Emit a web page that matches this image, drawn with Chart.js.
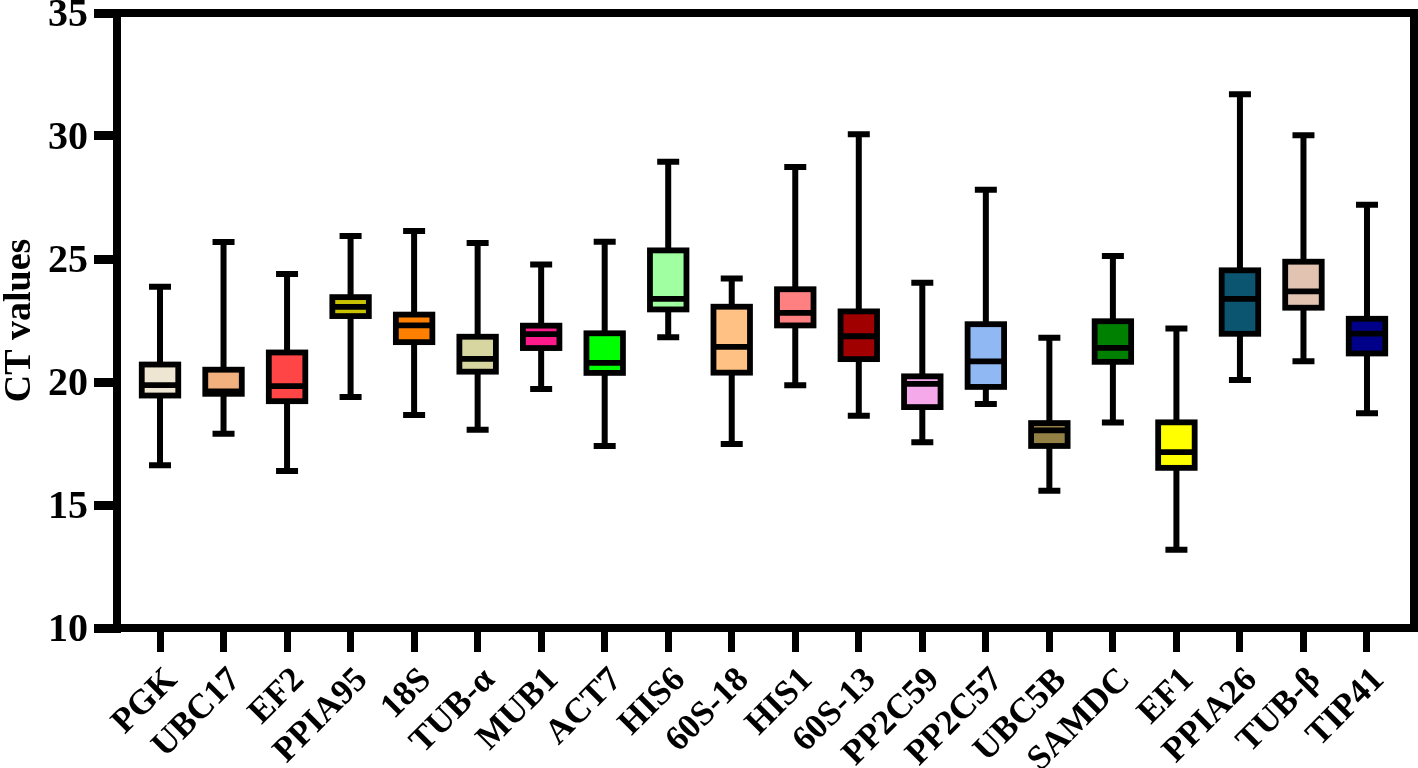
<!DOCTYPE html>
<html>
<head>
<meta charset="utf-8">
<script src="https://cdn.jsdelivr.net/npm/chart.js@4.4.0/dist/chart.umd.min.js"></script>
<style>
  html, body { margin: 0; padding: 0; background: #fff; }
  #wrap { width: 1418px; height: 768px; }
</style>
</head>
<body>
<div id="wrap"><canvas id="c" width="1418" height="768"></canvas></div>
<script>
const labels = ['PGK','UBC17','EF2','PPIA95','18S','TUB-\u03B1','MUB1','ACT7','HIS6','60S-18','HIS1','60S-13','PP2C59','PP2C57','UBC5B','SAMDC','EF1','PPIA26','TUB-\u03B2','TIP41'];
const minValues    = [16.62, 17.90, 16.38, 19.39, 18.66, 18.06, 19.72, 17.40, 21.82, 17.48, 19.87, 18.63, 17.55, 19.11, 15.58, 18.35, 13.18, 20.08, 20.84, 18.73];
const q1Values     = [19.45, 19.52, 19.22, 22.68, 21.62, 20.42, 21.38, 20.37, 22.95, 20.38, 22.30, 20.93, 18.98, 19.80, 17.40, 20.82, 16.51, 21.96, 23.02, 21.16];
const medianValues = [19.87, 19.62, 19.83, 23.05, 22.30, 20.94, 21.95, 20.78, 23.38, 21.43, 22.81, 21.86, 19.92, 20.84, 18.03, 21.39, 17.15, 23.38, 23.68, 21.97];
const q3Values     = [20.71, 20.50, 21.20, 23.45, 22.74, 21.84, 22.29, 21.98, 25.35, 23.06, 23.77, 22.87, 20.23, 22.35, 18.33, 22.47, 18.36, 24.54, 24.89, 22.57];
const maxValues    = [23.87, 25.69, 24.39, 25.93, 26.14, 25.65, 24.78, 25.70, 28.95, 24.21, 28.74, 30.07, 24.03, 27.82, 21.80, 25.12, 22.17, 31.70, 30.03, 27.21];
const boxColors = ['#EEE6D2','#F2B07E','#FF4545','#C8C200','#FF8000','#D8D6A0','#FF1A8C','#00FF00','#A0FFA0','#FFC184','#FF8080','#A00000','#F5A8EA','#90B8F2','#928044','#008000','#FFFF00','#0B5570','#E2C2B0','#000088'];
const yTicks = [10, 15, 20, 25, 30, 35];

const FONT = "'Liberation Serif', 'Times New Roman', serif";

const boxData = labels.map((_, i) => ({ x: i, y: [q1Values[i], q3Values[i]] }));

const boxPlugin = {
  id: 'boxWhisker',
  afterDatasetsDraw(chart) {
    const ctx = chart.ctx;
    const xs = chart.scales.x, ys = chart.scales.y;
    const boxW = 36.5, capW = 22, lw = 5.8;
    ctx.save();
    ctx.strokeStyle = '#000';
    ctx.lineCap = 'butt';
    ctx.lineJoin = 'miter';
    labels.forEach((_, i) => {
      const x = xs.getPixelForValue(i);
      const yMin = ys.getPixelForValue(minValues[i]);
      const yQ1 = ys.getPixelForValue(q1Values[i]);
      const yMed = ys.getPixelForValue(medianValues[i]);
      const yQ3 = ys.getPixelForValue(q3Values[i]);
      const yMax = ys.getPixelForValue(maxValues[i]);
      ctx.lineWidth = 6;
      ctx.beginPath();
      ctx.moveTo(x, yQ3); ctx.lineTo(x, yMax);
      ctx.moveTo(x, yQ1); ctx.lineTo(x, yMin);
      ctx.moveTo(x - capW / 2, yMax); ctx.lineTo(x + capW / 2, yMax);
      ctx.moveTo(x - capW / 2, yMin); ctx.lineTo(x + capW / 2, yMin);
      ctx.stroke();
      ctx.lineWidth = lw;
      ctx.strokeRect(x - boxW / 2, yQ3, boxW, yQ1 - yQ3);
      ctx.beginPath();
      ctx.moveTo(x - boxW / 2, yMed); ctx.lineTo(x + boxW / 2, yMed);
      ctx.stroke();
    });
    // frame: top and right
    const a = chart.chartArea;
    ctx.lineWidth = 8;
    ctx.beginPath();
    ctx.moveTo(a.left - 4, a.top); ctx.lineTo(a.right + 4, a.top);
    ctx.moveTo(a.right, a.top); ctx.lineTo(a.right, a.bottom + 4);
    ctx.stroke();
    ctx.restore();
  }
};

new Chart(document.getElementById('c'), {
  type: 'bar',
  data: {
    datasets: [{
      data: boxData,
      backgroundColor: boxColors,
      borderWidth: 0,
      barThickness: 36,
      grouped: false
    }]
  },
  options: {
    responsive: false,
    animation: false,
    layout: { padding: { top: 13, right: 4, left: 0, bottom: 0 } },
    plugins: { legend: { display: false }, tooltip: { enabled: false } },
    scales: {
      x: {
        type: 'linear',
        offset: false,
        min: -0.677,
        max: 19.74,
        afterBuildTicks: (axis) => { axis.ticks = labels.map((_, i) => ({ value: i })); },
        afterFit: (s) => { s.height = 140; s.paddingLeft = 0; s.paddingRight = 0; },
        grid: { offset: false, drawOnChartArea: false, drawTicks: true, tickLength: 24, tickWidth: 7, tickColor: '#000', color: '#000', lineWidth: 7 },
        border: { display: true, color: '#000', width: 8 },
        ticks: {
          autoSkip: false,
          minRotation: 45,
          maxRotation: 45,
          padding: 8,
          labelOffset: 12,
          color: '#000',
          font: { family: FONT, size: 35, weight: 'bold' },
          callback: (v) => labels[Math.round(v)]
        }
      },
      y: {
        type: 'linear',
        min: 10,
        max: 35,
        afterBuildTicks: (axis) => { axis.ticks = yTicks.map(v => ({ value: v })); },
        afterFit: (s) => { s.width = 117; s.paddingTop = 0; s.paddingBottom = 0; },
        grid: { drawOnChartArea: false, drawTicks: true, tickLength: 23, tickWidth: 9, tickColor: '#000', color: '#000', lineWidth: 9 },
        border: { display: true, color: '#000', width: 8 },
        ticks: {
          padding: 6,
          labelOffset: 3,
          color: '#000',
          font: { family: FONT, size: 40, weight: 'bold' }
        },
        title: {
          display: true,
          text: 'CT values',
          color: '#000',
          padding: { top: 1, bottom: 0 },
          font: { family: FONT, size: 38, weight: 'bold', lineHeight: 1 }
        }
      }
    }
  },
  plugins: [boxPlugin]
});
</script>
</body>
</html>
